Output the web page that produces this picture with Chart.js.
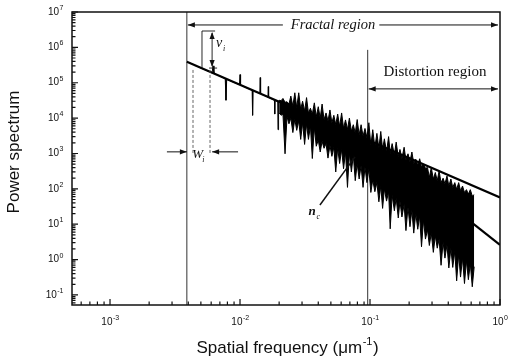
<!DOCTYPE html>
<html>
<head>
<meta charset="utf-8">
<script src="https://cdn.jsdelivr.net/npm/chart.js@4.4.1/dist/chart.umd.min.js"></script>
<style>
  body { margin: 0; background: #fff; }
  canvas { display: block; }
</style>
</head>
<body>
<canvas id="spectrumChart" width="509" height="363"></canvas>
<script>
// Low-frequency part of the spectrum: mostly on the fit line, a few thin spikes
const sparseFreq = [
  0.0045, 0.0061, 0.0062, 0.0063, 0.0077, 0.0078, 0.0079, 0.0099, 0.0100, 0.0101,
  0.0124, 0.0125, 0.0126, 0.0142, 0.0143, 0.0144, 0.0164, 0.0165, 0.0166, 0.0184,
  0.0185, 0.0186, 0.0195, 0.0196, 0.0198, 0.0200
];
const sparsePower = [
  3.1e5, 1.9e5, 3.0e5, 1.85e5, 1.3e5, 3.2e4, 1.25e5, 8.8e4, 1.7e5, 8.6e4,
  6.1e4, 1.2e4, 6.0e4, 5.0e4, 1.4e5, 4.9e4, 3.9e4, 7.8e4, 3.85e4, 3.2e4,
  1.3e4, 3.15e4, 2.95e4, 4.7e3, 2.9e4, 3.2e4
];

// Dense part: upper and lower edge of the black noise band
const bandFreq = [
  0.0200, 0.0207, 0.0214, 0.0222, 0.0230, 0.0238, 0.0246, 0.0255, 0.0264, 0.0273,
  0.0283, 0.0293, 0.0303, 0.0314, 0.0325, 0.0336, 0.0348, 0.0360, 0.0373, 0.0386,
  0.0400, 0.0414, 0.0428, 0.0443, 0.0459, 0.0475, 0.0492, 0.0509, 0.0527, 0.0545,
  0.0564, 0.0584, 0.0605, 0.0626, 0.0648, 0.0671, 0.0694, 0.0719, 0.0744, 0.0770,
  0.0797, 0.0825, 0.0854, 0.0884, 0.0915, 0.0947, 0.0980, 0.1015, 0.105, 0.109,
  0.113, 0.117, 0.121, 0.125, 0.129, 0.134, 0.139, 0.143, 0.148, 0.154,
  0.159, 0.165, 0.170, 0.176, 0.183, 0.189, 0.196, 0.203, 0.210, 0.217,
  0.225, 0.233, 0.241, 0.249, 0.258, 0.267, 0.277, 0.286, 0.296, 0.307,
  0.318, 0.329, 0.340, 0.352, 0.365, 0.377, 0.391, 0.404, 0.419, 0.433,
  0.449, 0.464, 0.481, 0.497, 0.515, 0.533, 0.552, 0.571, 0.591, 0.612,
  0.633
];
const bandUpper = [
  3.2e4, 3.1e4, 3.6e4, 2.8e4, 2.9e4, 2.5e4, 4.2e4, 2.2e4, 5.2e4, 2.0e4,
  5.2e4, 1.8e4, 3.0e4, 1.6e4, 3.8e4, 1.4e4, 1.9e4, 1.3e4, 2.7e4, 1.1e4,
  2.1e4, 1.0e4, 2.5e4, 9.1e3, 1.4e4, 8.3e3, 1.7e4, 7.4e3, 1.2e4, 6.6e3,
  1.3e4, 5.9e3, 1.4e4, 5.2e3, 8.9e3, 4.8e3, 1.0e4, 4.3e3, 6.5e3, 3.8e3,
  9.1e3, 3.4e3, 6.5e3, 3.1e3, 5.1e3, 2.8e3, 7.4e3, 1.7e3, 4.7e3, 1.5e3,
  3.7e3, 1.4e3, 4.2e3, 1.3e3, 2.6e3, 1.1e3, 3.0e3, 1.0e3, 1.9e3, 910,
  2.1e3, 810, 1.3e3, 720, 1.5e3, 650, 980, 590, 1.1e3, 520,
  690, 470, 710, 420, 500, 380, 400, 210, 400, 190,
  290, 170, 320, 150, 200, 140, 230, 120, 190, 110,
  150, 98, 150, 89, 120, 79, 95, 71, 95, 63,
  68
];
const bandLower = [
  1.4e4, 1.2e4, 1.3e4, 980, 1.1e4, 6.9e3, 1.0e4, 3.9e3, 9.3e3, 4.5e3,
  8.3e3, 2.5e3, 7.4e3, 1.8e3, 6.8e3, 2.5e3, 6.0e3, 720, 5.4e3, 1.6e3,
  2.4e3, 1.1e3, 2.2e3, 1.4e3, 1.9e3, 740, 1.7e3, 830, 1.5e3, 300,
  1.4e3, 520, 1.3e3, 370, 1.1e3, 110, 1.0e3, 300, 910, 170,
  510, 190, 460, 110, 410, 150, 370, 79, 180, 83,
  150, 43, 120, 28, 100, 45, 81, 7.4, 66, 24,
  55, 15, 45, 16, 36, 6.6, 30, 8.5, 25, 5.6,
  20, 7.2, 17, 2.3, 13, 3.8, 6.9, 2.5, 5.6, 1.6,
  4.7, 2.1, 3.8, 0.69, 3.1, 1.1, 2.6, 0.58, 2.1, 0.60,
  1.7, 0.25, 1.4, 0.32, 1.1, 0.21, 0.93, 0.27, 0.76, 0.17,
  0.63
];

// fitted lines: fractal slope and the steeper distortion slope
const fractalFreq = [0.0039, 1];
const fractalPower = [3.9e5, 57];
const distortionFreq = [0.1, 1];
const distortionPower = [2.1e3, 2.6];

// region boundaries
const boundaryFreq = [0.0039, 0.096];
const boundaryTop = [1e7, 8.5e5];

// axes
const xMin = 5.1e-4, xMax = 1;
const yMin = 0.052, yMax = 1e7;
const xTicks = [1e-3, 1e-2, 1e-1, 1];
const xTickExp = ['-3', '-2', '-1', '0'];
const yTicks = [1e-1, 1, 1e1, 1e2, 1e3, 1e4, 1e5, 1e6, 1e7];
const yTickExp = ['-1', '0', '1', '2', '3', '4', '5', '6', '7'];

function pairs(xs, ys) {
  return xs.map((v, i) => ({ x: v, y: ys[i] }));
}

function arrowHead(ctx, x, y, dx, dy) {
  const len = 7, w = 2.6;
  ctx.beginPath();
  ctx.moveTo(x, y);
  ctx.lineTo(x - dx * len - dy * w, y - dy * len + dx * w);
  ctx.lineTo(x - dx * len + dy * w, y - dy * len - dx * w);
  ctx.closePath();
  ctx.fill();
}

function powerLabel(ctx, exp, px, py, align) {
  ctx.font = '10px "Liberation Sans"';
  const bw = ctx.measureText('10').width;
  ctx.font = '7px "Liberation Sans"';
  const ew = ctx.measureText(exp).width;
  const left = align === 'right' ? px - bw - ew : px - (bw + ew) / 2;
  ctx.textAlign = 'left';
  ctx.textBaseline = 'middle';
  ctx.font = '10px "Liberation Sans"';
  ctx.fillText('10', left, py);
  ctx.font = '7px "Liberation Sans"';
  ctx.fillText(exp, left + bw + 0.5, py - 4);
}

// frame, inward ticks, labels, titles and the hand-drawn markers
const decorations = {
  id: 'decorations',
  afterDatasetsDraw(chart) {
    const ctx = chart.ctx;
    const xs = chart.scales.x, ys = chart.scales.y;
    const a = chart.chartArea;
    const X = v => xs.getPixelForValue(v);
    const Y = v => ys.getPixelForValue(v);
    ctx.save();
    ctx.fillStyle = '#111';
    ctx.strokeStyle = '#111';

    ctx.lineWidth = 1.5;
    ctx.strokeRect(a.left, a.top, a.right - a.left, a.bottom - a.top);

    // ticks on the left and bottom, pointing in
    ctx.lineWidth = 1.2;
    ctx.beginPath();
    for (let d = -2; d <= 7; d++) {
      for (let k = 1; k <= 9; k++) {
        const v = k * Math.pow(10, d);
        if (v < yMin || v > yMax) continue;
        const py = Y(v), len = k === 1 ? 6 : 3.5;
        ctx.moveTo(a.left, py);
        ctx.lineTo(a.left + len, py);
      }
    }
    for (let d = -4; d <= 0; d++) {
      for (let k = 1; k <= 9; k++) {
        const v = k * Math.pow(10, d);
        if (v < xMin || v > xMax) continue;
        const px = X(v), len = k === 1 ? 6 : 3.5;
        ctx.moveTo(px, a.bottom);
        ctx.lineTo(px, a.bottom - len);
      }
    }
    ctx.stroke();

    yTicks.forEach((v, i) => powerLabel(ctx, yTickExp[i], a.left - 9, Y(v), 'right'));
    xTicks.forEach((v, i) => powerLabel(ctx, xTickExp[i], X(v), a.bottom + 17, 'center'));

    // axis titles
    ctx.font = '17px "Liberation Sans"';
    ctx.textBaseline = 'middle';
    ctx.textAlign = 'center';
    ctx.save();
    ctx.translate(14, 152);
    ctx.rotate(-Math.PI / 2);
    ctx.fillText('Power spectrum', 0, 0);
    ctx.restore();

    const t1 = 'Spatial frequency (\u03bcm', t2 = '-1', t3 = ')';
    ctx.font = '17px "Liberation Sans"';
    const w1 = ctx.measureText(t1).width, w3 = ctx.measureText(t3).width;
    ctx.font = '11px "Liberation Sans"';
    const w2 = ctx.measureText(t2).width;
    const tx = 287 - (w1 + w2 + w3) / 2;
    ctx.textAlign = 'left';
    ctx.font = '17px "Liberation Sans"';
    ctx.fillText(t1, tx, 348);
    ctx.font = '11px "Liberation Sans"';
    ctx.fillText(t2, tx + w1 + 0.5, 342);
    ctx.font = '17px "Liberation Sans"';
    ctx.fillText(t3, tx + w1 + w2 + 1, 348);

    // Fractal region arrow
    const fy = Y(4.3e6);
    const fl = X(boundaryFreq[0]) + 1, fr = a.right - 2;
    ctx.font = 'italic 14.5px "Liberation Serif"';
    const fText = 'Fractal region';
    const fw = ctx.measureText(fText).width;
    const fc = X(0.052);
    ctx.textAlign = 'center';
    ctx.fillText(fText, fc, fy);
    ctx.lineWidth = 1;
    ctx.beginPath();
    ctx.moveTo(fl, fy); ctx.lineTo(fc - fw / 2 - 8, fy);
    ctx.moveTo(fc + fw / 2 + 4, fy); ctx.lineTo(fr, fy);
    ctx.stroke();
    arrowHead(ctx, fl, fy, -1, 0);
    arrowHead(ctx, fr, fy, 1, 0);

    // Distortion region arrow
    ctx.font = '15px "Liberation Serif"';
    ctx.fillText('Distortion region', X(0.316), Y(2.0e5));
    const dy = Y(6.7e4), dl = X(boundaryFreq[1]) + 1;
    ctx.beginPath();
    ctx.moveTo(dl, dy); ctx.lineTo(fr, dy);
    ctx.stroke();
    arrowHead(ctx, dl, dy, -1, 0);
    arrowHead(ctx, fr, dy, 1, 0);

    // v_i: vertical spike height marker
    const vx0 = X(0.0051), vx1 = X(0.0061), vTop = Y(2.9e6), vBot = Y(2.6e5);
    ctx.lineWidth = 0.9;
    ctx.beginPath();
    ctx.moveTo(vx0, vBot); ctx.lineTo(vx0, vTop); ctx.lineTo(vx1 + 3, vTop);
    ctx.moveTo(vx1 - 3, vBot); ctx.lineTo(vx1 + 5, vBot);
    ctx.moveTo(vx1, vTop + 2); ctx.lineTo(vx1, vBot - 2);
    ctx.stroke();
    arrowHead(ctx, vx1, vTop + 1, 0, -1);
    arrowHead(ctx, vx1, vBot - 1, 0, 1);
    ctx.textAlign = 'left';
    ctx.font = 'italic 14px "Liberation Serif"';
    ctx.fillText('\u03bd', vx1 + 4, Y(1.3e6));
    ctx.font = 'italic 8px "Liberation Serif"';
    ctx.fillText('i', vx1 + 11, Y(9e5));

    // w_i: spike width marker
    const wy = Y(1110);
    ctx.setLineDash([3, 2]);
    ctx.strokeStyle = '#555';
    ctx.beginPath();
    ctx.moveTo(X(0.00435), Y(2.3e5)); ctx.lineTo(X(0.00435), wy + 3);
    ctx.moveTo(X(0.00588), Y(2.3e5)); ctx.lineTo(X(0.00588), wy + 3);
    ctx.stroke();
    ctx.setLineDash([]);
    ctx.strokeStyle = '#111';
    ctx.lineWidth = 1;
    const wl = X(boundaryFreq[0]), wr = X(0.0061);
    ctx.beginPath();
    ctx.moveTo(X(0.00274), wy); ctx.lineTo(wl, wy);
    ctx.moveTo(X(0.00966), wy); ctx.lineTo(wr, wy);
    ctx.stroke();
    arrowHead(ctx, wl, wy, 1, 0);
    arrowHead(ctx, wr, wy, -1, 0);
    ctx.font = 'italic 13px "Liberation Serif"';
    ctx.fillText('W', X(0.0043), wy + 3);
    ctx.font = 'italic 8px "Liberation Serif"';
    ctx.fillText('i', X(0.0043) + 10, wy + 8);

    // n_c pointer
    ctx.lineWidth = 1.5;
    ctx.beginPath();
    ctx.moveTo(X(0.0412), Y(35));
    ctx.lineTo(X(0.0767), Y(800));
    ctx.stroke();
    ctx.font = 'italic bold 13px "Liberation Serif"';
    ctx.fillText('n', X(0.0336), Y(22));
    ctx.font = 'italic 8px "Liberation Serif"';
    ctx.fillText('c', X(0.0336) + 8, Y(22) + 5);

    ctx.restore();
  }
};

const ctx = document.getElementById('spectrumChart').getContext('2d');
const spectrumChart = new Chart(ctx, {
  type: 'line',
  data: {
    datasets: [
      {
        label: 'Spectrum (low frequency)',
        data: pairs(sparseFreq, sparsePower),
        borderColor: '#000',
        borderWidth: 1,
        pointRadius: 0
      },
      {
        label: 'Spectrum upper edge',
        data: pairs(bandFreq, bandUpper),
        borderColor: '#000',
        backgroundColor: '#000',
        borderWidth: 1,
        pointRadius: 0,
        fill: '+1'
      },
      {
        label: 'Spectrum lower edge',
        data: pairs(bandFreq, bandLower),
        borderColor: '#000',
        borderWidth: 1,
        pointRadius: 0,
        fill: false
      },
      {
        label: 'Fractal fit',
        data: pairs(fractalFreq, fractalPower),
        borderColor: '#000',
        borderWidth: 2.2,
        pointRadius: 0
      },
      {
        label: 'Distortion fit',
        data: pairs(distortionFreq, distortionPower),
        borderColor: '#000',
        borderWidth: 2.2,
        pointRadius: 0
      },
      {
        label: 'Fractal boundary',
        data: [{ x: boundaryFreq[0], y: yMin }, { x: boundaryFreq[0], y: boundaryTop[0] }],
        borderColor: '#333',
        borderWidth: 1,
        pointRadius: 0
      },
      {
        label: 'Distortion boundary',
        data: [{ x: boundaryFreq[1], y: yMin }, { x: boundaryFreq[1], y: boundaryTop[1] }],
        borderColor: '#333',
        borderWidth: 1,
        pointRadius: 0
      }
    ]
  },
  options: {
    responsive: false,
    animation: false,
    devicePixelRatio: 1,
    layout: { padding: { left: 72, top: 12, right: 9, bottom: 58 } },
    plugins: { legend: { display: false }, tooltip: { enabled: false } },
    scales: {
      x: { type: 'logarithmic', min: xMin, max: xMax, display: false },
      y: { type: 'logarithmic', min: yMin, max: yMax, display: false }
    }
  },
  plugins: [decorations]
});
</script>
</body>
</html>
